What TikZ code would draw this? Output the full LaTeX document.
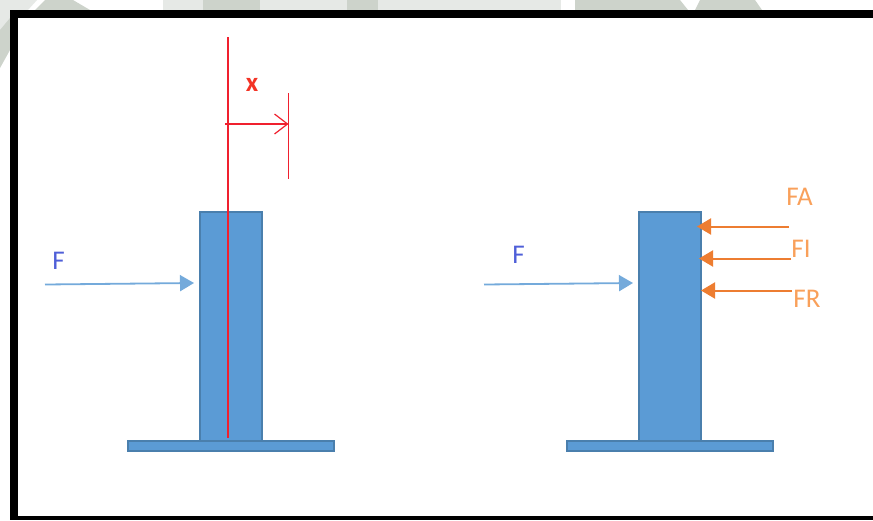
\documentclass[tikz,border=0pt]{standalone}
\usepackage{fontspec}
\setmainfont{Carlito}
\usetikzlibrary{arrows.meta}
\definecolor{barblue}{HTML}{5B9BD5}
\definecolor{baredge}{HTML}{4A7FAD}
\definecolor{forceor}{HTML}{ED7D31}
\definecolor{labelor}{HTML}{F9A05A}
\definecolor{labelbl}{HTML}{4F5FD8}
\definecolor{measred}{HTML}{F0202E}
\definecolor{markgreen}{HTML}{CDD3CB}
\definecolor{markgrey}{HTML}{E6E9E6}
\tikzset{
  x=1pt,y=-1pt,
  part/.style={draw=baredge,line width=1.6pt,fill=barblue,inner sep=0pt,outer sep=0pt,anchor=north west},
  pushline/.style={draw=barblue!85,line width=1.8pt,-{Triangle[length=14pt,width=16pt]}},
  reaction/.style={draw=forceor,line width=2pt,-{Triangle[length=14pt,width=16pt]}},
  measure/.style={draw=measred,line width=1.7pt},
  measarrow/.style={draw=measred,line width=1.7pt,-{Straight Barb[length=13pt,width=20pt,line width=1.2pt]}},
  lab/.style={font=\fontsize{27}{27}\selectfont,inner sep=0pt},
}
\begin{document}
\begin{tikzpicture}
\useasboundingbox (0,0) rectangle (873,520);
\fill[white] (0,0) rectangle (873,520);
% watermark remnants behind the frame
\fill[markgrey] (0,0) -- (37,0) -- (28,10) -- (10,10) -- (10,30) -- (0,30) -- cycle;
\fill[markgreen] (0,30) -- (10,18) -- (10,50) -- (0,68) -- cycle;
\fill[markgreen] (45,0) -- (73,0) -- (90,10) -- (35,10) -- cycle;
\fill[markgrey] (163,0) rectangle (561,10);
\fill[markgreen] (203,0) rectangle (260,10);
\fill[markgreen] (347,0) rectangle (378,10);
\fill[markgreen] (575,0) -- (680,0) -- (688,10) -- (575,10) -- cycle;
\fill[markgreen] (700,0) -- (755,0) -- (762,10) -- (695,10) -- cycle;
% frame
\fill[black] (10,10) rectangle (873,17.5);
\fill[black] (10,10) rectangle (17.5,520);
\fill[black] (10,516) rectangle (873,520);
% left column
\node[part,minimum width=62pt,minimum height=229pt] (postA) at (200,212) {};
\node[part,minimum width=206pt,minimum height=10pt] (baseA) at (128,441) {};
% right column
\node[part,minimum width=62pt,minimum height=229pt] (postB) at (639,212) {};
\node[part,minimum width=206pt,minimum height=10pt] (baseB) at (567,441) {};
% applied forces
\coordinate (fa0) at (45,284.5);
\coordinate (fa1) at (194,283);
\coordinate (fb0) at (484,284.5);
\coordinate (fb1) at (633,283);
\draw[pushline] (fa0) -- (fa1);
\draw[pushline] (fb0) -- (fb1);
\node[lab,text=labelbl] (lF1) at (58.5,261) {F};
\node[lab,text=labelbl] (lF2) at (518.5,255) {F};
% reaction forces
\coordinate (ra) at (789,226.5);
\coordinate (ra1) at (697,226.5);
\coordinate (ri) at (791,258.5);
\coordinate (ri1) at (699,258.5);
\coordinate (rr) at (792,290.5);
\coordinate (rr1) at (701,290.5);
\draw[reaction] (ra) -- (ra1);
\draw[reaction] (ri) -- (ri1);
\draw[reaction] (rr) -- (rr1);
\node[lab,text=labelor] (lFA) at (799.5,197) {FA};
\node[lab,text=labelor] (lFI) at (801,249) {FI};
\node[lab,text=labelor] (lFR) at (807,299) {FR};
% deflection measure
\coordinate (axisT) at (228,37);
\coordinate (axisB) at (228,438);
\coordinate (tickT) at (288.5,93);
\coordinate (tickB) at (288.5,179);
\coordinate (xs) at (225,124);
\coordinate (xe) at (288.5,124);
\draw[measure] (axisT) -- (axisB);
\draw[measure] (tickT) -- (tickB);
\draw[measarrow] (xs) -- (xe);
\node[lab,text=measred!80!orange,font=\fontsize{27}{27}\bfseries\selectfont] (lx) at (252,85) {x};
\end{tikzpicture}
\end{document}
